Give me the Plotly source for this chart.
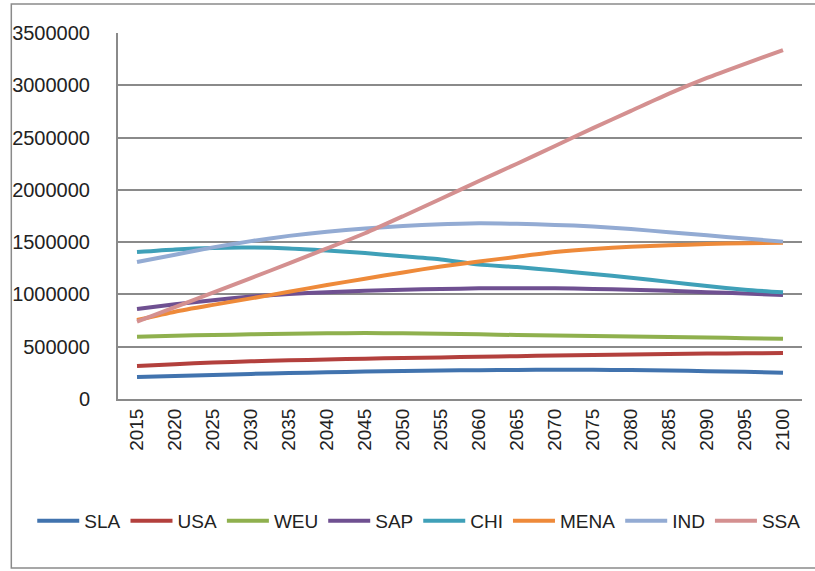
import plotly.graph_objects as go

years = ["2015", "2020", "2025", "2030", "2035", "2040", "2045", "2050", "2055",
         "2060", "2065", "2070", "2075", "2080", "2085", "2090", "2095", "2100"]

SLA = [210000, 220000, 230000, 240000, 248000, 255000, 262000, 268000, 272000,
       276000, 278000, 279000, 279000, 277000, 272000, 266000, 260000, 250000]
USA = [315000, 333000, 348000, 360000, 370000, 378000, 385000, 392000, 398000,
       404000, 410000, 416000, 421000, 426000, 430000, 434000, 437000, 440000]
WEU = [595000, 605000, 612000, 618000, 624000, 628000, 630000, 628000, 624000,
       618000, 612000, 607000, 602000, 598000, 593000, 588000, 582000, 575000]
SAP = [861000, 905000, 945000, 980000, 1005000, 1022000, 1035000, 1045000, 1052000,
       1058000, 1060000, 1058000, 1053000, 1045000, 1035000, 1022000, 1008000, 995000]
CHI = [1405000, 1430000, 1445000, 1448000, 1440000, 1420000, 1395000, 1365000, 1335000,
       1285000, 1262000, 1230000, 1195000, 1160000, 1120000, 1080000, 1045000, 1020000]
MENA = [755000, 835000, 900000, 962000, 1025000, 1090000, 1150000, 1210000, 1268000,
        1315000, 1360000, 1405000, 1435000, 1455000, 1470000, 1482000, 1490000, 1495000]
IND = [1310000, 1380000, 1450000, 1510000, 1560000, 1600000, 1630000, 1655000, 1670000,
       1680000, 1675000, 1665000, 1650000, 1625000, 1595000, 1565000, 1535000, 1505000]
SSA = [740000, 878000, 1017000, 1156000, 1297000, 1440000, 1585000, 1748000, 1915000,
       2085000, 2250000, 2420000, 2590000, 2755000, 2920000, 3070000, 3205000, 3337000]

series_names = ["SLA", "USA", "WEU", "SAP", "CHI", "MENA", "IND", "SSA"]
series_values = [SLA, USA, WEU, SAP, CHI, MENA, IND, SSA]
colors = ["#4173AE", "#B3403D", "#8FB04E", "#6F5091", "#3FA0B8", "#EE8A3A", "#93ABD3", "#D49090"]

y_ticks = [0, 500000, 1000000, 1500000, 2000000, 2500000, 3000000, 3500000]

fig = go.Figure()
for name, vals, col in zip(series_names, series_values, colors):
    fig.add_trace(go.Scatter(x=years, y=vals, name=name, mode="lines",
                             line=dict(color=col, width=4, shape="spline", smoothing=0.6)))

font = "Liberation Sans, Arial, sans-serif"
fig.update_layout(
    width=815, height=571,
    margin=dict(l=116, r=13, t=33, b=172),
    paper_bgcolor="white", plot_bgcolor="white",
    font=dict(family=font, color="#222222"),
    showlegend=True,
    legend=dict(orientation="h", x=(30 - 116) / 686, xanchor="left", y=(399 - 521) / 366,
                yanchor="middle", itemwidth=42, tracegroupgap=0,
                font=dict(size=19, family=font, color="#222222"),
                bgcolor="rgba(0,0,0,0)"),
    xaxis=dict(type="category", range=[-0.5, 17.5], tickangle=-90,
               tickfont=dict(size=19, family=font, color="#222222"),
               showgrid=False, showline=True, linecolor="#8a8a8a", linewidth=2,
               ticks="", zeroline=False),
    yaxis=dict(range=[0, 3500000], tickvals=y_ticks, ticktext=[str(v) for v in y_ticks],
               tickfont=dict(size=20, family=font, color="#222222"),
               showgrid=True, gridcolor="#8a8a8a", gridwidth=1.5,
               showline=True, linecolor="#8a8a8a", linewidth=2,
               ticks="", ticklabelstandoff=22, zeroline=False),
    shapes=[dict(type="rect", xref="paper", yref="paper",
                 x0=(9 - 116) / 686, x1=(818 - 116) / 686,
                 y0=(399 - 568) / 366, y1=(399 - 4) / 366,
                 line=dict(color="#8a8a8a", width=1.5), fillcolor="rgba(0,0,0,0)", layer="below")],
)

fig.write_html("out.html")
